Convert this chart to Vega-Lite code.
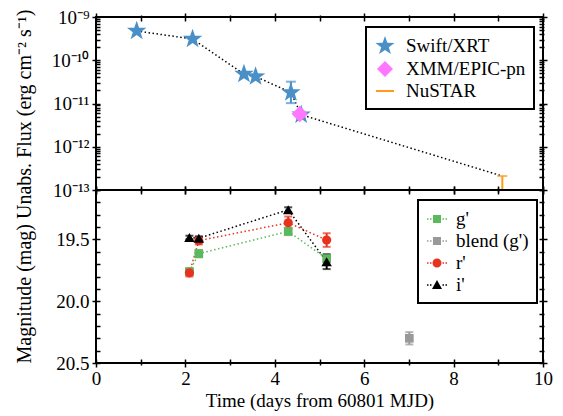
{
  "$schema": "https://vega.github.io/schema/vega-lite/v6.json",
  "autosize": {"type": "none"},
  "padding": {"left": 96, "top": 17, "right": 20, "bottom": 53},
  "params": [{"name": "width", "value": 447}, {"name": "height", "value": 346}],
  "background": "white",
  "spacing": 0,
  "bounds": "flush",
  "datasets": {
    "xray": [
      {"t": 0.91, "flux": 4.75e-10, "inst": "Swift/XRT"},
      {"t": 2.16, "flux": 3.1e-10, "inst": "Swift/XRT"},
      {"t": 3.31, "flux": 4.8e-11, "inst": "Swift/XRT"},
      {"t": 3.57, "flux": 4.2e-11, "inst": "Swift/XRT"},
      {"t": 4.36, "flux": 1.8e-11, "lo": 1.02e-11, "hi": 3.2e-11, "inst": "Swift/XRT"},
      {"t": 4.59, "flux": 5.5e-12, "inst": "Swift/XRT"},
      {"t": 4.56, "flux": 5.7e-12, "inst": "XMM/EPIC-pn"},
      {"t": 9.09, "flux": 2.1e-13, "lo": 1e-13, "hi": 2.1e-13, "inst": "NuSTAR"}
    ],
    "opt": [
      {"t": 2.09, "mag": 19.76, "lo": 19.735, "hi": 19.785, "band": "g'"},
      {"t": 2.30, "mag": 19.615, "lo": 19.585, "hi": 19.645, "band": "g'"},
      {"t": 4.30, "mag": 19.435, "lo": 19.405, "hi": 19.465, "band": "g'"},
      {"t": 5.16, "mag": 19.655, "lo": 19.625, "hi": 19.685, "band": "g'"},
      {"t": 7.01, "mag": 20.30, "lo": 20.25, "hi": 20.35, "band": "blend (g')"},
      {"t": 2.09, "mag": 19.77, "lo": 19.74, "hi": 19.80, "band": "r'"},
      {"t": 2.30, "mag": 19.51, "lo": 19.48, "hi": 19.54, "band": "r'"},
      {"t": 4.30, "mag": 19.365, "lo": 19.315, "hi": 19.415, "band": "r'"},
      {"t": 5.16, "mag": 19.505, "lo": 19.45, "hi": 19.56, "band": "r'"},
      {"t": 2.09, "mag": 19.485, "lo": 19.47, "hi": 19.50, "band": "i'"},
      {"t": 2.30, "mag": 19.49, "lo": 19.475, "hi": 19.505, "band": "i'"},
      {"t": 4.30, "mag": 19.26, "lo": 19.24, "hi": 19.28, "band": "i'"},
      {"t": 5.16, "mag": 19.68, "lo": 19.62, "hi": 19.74, "band": "i'"}
    ]
  },
  "vconcat": [
    {
      "width": 447,
      "height": 173,
      "data": {"name": "xray"},
      "resolve": {"axis": {"x": "independent", "y": "independent"}},
      "layer": [
        {
          "transform": [{"filter": {"not": {"field": "inst", "equal": "XMM/EPIC-pn"}}}],
          "mark": {"type": "line", "color": "black", "strokeDash": [1.5, 2.5], "strokeWidth": 1.5},
          "encoding": {
            "x": {"field": "t", "type": "quantitative",
              "scale": {"domain": [0, 10], "nice": false, "zero": false},
              "axis": {"orient": "bottom", "title": null, "labels": false,
                "values": [0,1,2,3,4,5,6,7,8,9,10],
                "tickSize": {"condition": {"test": "datum.value % 2 === 0", "value": 8}, "value": 6}}},
            "y": {"field": "flux", "type": "quantitative",
              "scale": {"type": "log", "domain": [1e-13, 1e-9], "nice": false},
              "axis": {"orient": "left", "title": null, "labelPadding": 3,
                "values": [1e-13,2e-13,3e-13,4e-13,5e-13,6e-13,7e-13,8e-13,9e-13,1e-12,2e-12,3e-12,4e-12,5e-12,6e-12,7e-12,8e-12,9e-12,1e-11,2e-11,3e-11,4e-11,5e-11,6e-11,7e-11,8e-11,9e-11,1e-10,2e-10,3e-10,4e-10,5e-10,6e-10,7e-10,8e-10,9e-10,1e-9],
                "labelExpr": "abs(log(datum.value)/LN10 + 9) < 0.001 ? '10⁻⁹' : abs(log(datum.value)/LN10 + 10) < 0.001 ? '10⁻¹⁰' : abs(log(datum.value)/LN10 + 11) < 0.001 ? '10⁻¹¹' : abs(log(datum.value)/LN10 + 12) < 0.001 ? '10⁻¹²' : abs(log(datum.value)/LN10 + 13) < 0.001 ? '10⁻¹³' : ''",
                "tickSize": {"condition": {"test": "abs(log(datum.value)/LN10 - round(log(datum.value)/LN10)) < 0.001", "value": 8}, "value": 5}}}
          }
        },
        {
          "transform": [{"filter": "isValid(datum.lo)"}],
          "mark": {"type": "rule", "strokeWidth": 2},
          "encoding": {
            "x": {"field": "t", "type": "quantitative", "axis": null},
            "y": {"field": "lo", "type": "quantitative", "axis": null},
            "y2": {"field": "hi"},
            "color": {"field": "inst", "type": "nominal", "legend": null,
              "scale": {"domain": ["NuSTAR", "XMM/EPIC-pn", "Swift/XRT"], "range": ["#ff9a1a", "#ff77ff", "#4a90c8"]}}
          }
        },
        {
          "transform": [{"filter": "isValid(datum.lo)"}],
          "mark": {"type": "tick", "orient": "horizontal", "size": 10, "thickness": 2},
          "encoding": {
            "x": {"field": "t", "type": "quantitative", "axis": null},
            "y": {"field": "hi", "type": "quantitative", "axis": null},
            "color": {"field": "inst", "type": "nominal", "legend": null}
          }
        },
        {
          "transform": [{"filter": "isValid(datum.lo)"}],
          "mark": {"type": "tick", "orient": "horizontal", "size": 10, "thickness": 2},
          "encoding": {
            "x": {"field": "t", "type": "quantitative", "axis": null},
            "y": {"field": "lo", "type": "quantitative", "axis": null},
            "color": {"field": "inst", "type": "nominal", "legend": null}
          }
        },
        {
          "transform": [{"filter": {"not": {"field": "inst", "equal": "NuSTAR"}}}],
          "mark": {"type": "point", "filled": true, "opacity": 1, "size": 420},
          "encoding": {
            "x": {"field": "t", "type": "quantitative",
              "axis": {"orient": "top", "title": null, "labels": false,
                "values": [0,1,2,3,4,5,6,7,8,9,10],
                "tickSize": {"condition": {"test": "datum.value % 2 === 0", "value": 8}, "value": 6}}},
            "y": {"field": "flux", "type": "quantitative",
              "axis": {"orient": "right", "title": null, "labels": false,
                "values": [1e-13,2e-13,3e-13,4e-13,5e-13,6e-13,7e-13,8e-13,9e-13,1e-12,2e-12,3e-12,4e-12,5e-12,6e-12,7e-12,8e-12,9e-12,1e-11,2e-11,3e-11,4e-11,5e-11,6e-11,7e-11,8e-11,9e-11,1e-10,2e-10,3e-10,4e-10,5e-10,6e-10,7e-10,8e-10,9e-10,1e-9],
                "tickSize": {"condition": {"test": "abs(log(datum.value)/LN10 - round(log(datum.value)/LN10)) < 0.001", "value": 8}, "value": 5}}},
            "fill": {"field": "inst", "type": "nominal",
              "scale": {"domain": ["Swift/XRT", "XMM/EPIC-pn", "NuSTAR"], "range": ["#4a90c8", "#ff77ff", "#ff9a1a"]},
              "legend": {"title": null, "orient": "none", "legendX": 270, "legendY": 10, "symbolSize": 400, "labelOffset": 10, "rowPadding": 0, "padding": 8, "labelFont": "Liberation Serif", "labelFontSize": 19}},
            "shape": {"field": "inst", "type": "nominal",
              "scale": {"domain": ["Swift/XRT", "XMM/EPIC-pn", "NuSTAR"], "range": ["M0,-1L0.235,-0.324L0.951,-0.309L0.38,0.124L0.588,0.809L0,0.4L-0.588,0.809L-0.38,0.124L-0.951,-0.309L-0.235,-0.324Z", "M0,-0.8L0.8,0L0,0.8L-0.8,0Z", "M-0.9,-0.1H0.9V0.1H-0.9Z"]},
              "legend": {"title": null, "orient": "none", "legendX": 270, "legendY": 10, "symbolSize": 400, "labelOffset": 10, "rowPadding": 0, "padding": 8, "labelFont": "Liberation Serif", "labelFontSize": 19}}
          }
        }
      ]
    },
    {
      "width": 447,
      "height": 173,
      "data": {"name": "opt"},
      "resolve": {"axis": {"x": "independent", "y": "independent"}},
      "layer": [
        {
          "transform": [{"filter": {"not": {"field": "band", "equal": "blend (g')"}}}],
          "mark": {"type": "line", "strokeDash": [1.5, 2.5], "strokeWidth": 1.5},
          "encoding": {
            "x": {"field": "t", "type": "quantitative",
              "scale": {"domain": [0, 10], "nice": false, "zero": false},
              "axis": {"orient": "bottom", "title": "Time (days from 60801 MJD)", "labelPadding": 2, "titlePadding": 3,
                "values": [0,1,2,3,4,5,6,7,8,9,10],
                "labelExpr": "datum.value % 2 === 0 ? datum.label : ''",
                "tickSize": {"condition": {"test": "datum.value % 2 === 0", "value": 8}, "value": 6}}},
            "y": {"field": "mag", "type": "quantitative",
              "scale": {"domain": [19.1, 20.5], "reverse": true, "nice": false, "zero": false},
              "axis": {"orient": "left", "labelPadding": 3,
                "title": "Magnitude (mag) Unabs. Flux (erg cm⁻² s⁻¹)",
                "titleX": -76, "titleY": -4, "titleBaseline": "middle", "titleFontSize": 20,
                "values": [19.1,19.2,19.3,19.4,19.5,19.6,19.7,19.8,19.9,20.0,20.1,20.2,20.3,20.4,20.5],
                "labelExpr": "abs(datum.value*2 - round(datum.value*2)) < 0.001 ? format(datum.value, '.1f') : ''",
                "tickSize": {"condition": {"test": "abs(datum.value*2 - round(datum.value*2)) < 0.001", "value": 8}, "value": 5}}},
            "color": {"field": "band", "type": "nominal", "legend": null,
              "scale": {"domain": ["i'", "r'", "blend (g')", "g'"], "range": ["#000000", "#e8321e", "#999999", "#5cb85c"]}}
          }
        },
        {
          "mark": {"type": "rule", "strokeWidth": 2},
          "encoding": {
            "x": {"field": "t", "type": "quantitative", "axis": null},
            "y": {"field": "lo", "type": "quantitative", "axis": null},
            "y2": {"field": "hi"},
            "color": {"field": "band", "type": "nominal", "legend": null}
          }
        },
        {
          "mark": {"type": "tick", "orient": "horizontal", "size": 8, "thickness": 2},
          "encoding": {
            "x": {"field": "t", "type": "quantitative", "axis": null},
            "y": {"field": "lo", "type": "quantitative", "axis": null},
            "color": {"field": "band", "type": "nominal", "legend": null}
          }
        },
        {
          "mark": {"type": "tick", "orient": "horizontal", "size": 8, "thickness": 2},
          "encoding": {
            "x": {"field": "t", "type": "quantitative", "axis": null},
            "y": {"field": "hi", "type": "quantitative", "axis": null},
            "color": {"field": "band", "type": "nominal", "legend": null}
          }
        },
        {
          "transform": [{"filter": {"field": "band", "oneOf": ["g'", "blend (g')"]}}],
          "mark": {"type": "point", "shape": "square", "filled": true, "opacity": 1, "size": 75},
          "encoding": {
            "x": {"field": "t", "type": "quantitative", "axis": null},
            "y": {"field": "mag", "type": "quantitative", "axis": null},
            "color": {"field": "band", "type": "nominal", "legend": null}
          }
        },
        {
          "transform": [{"filter": {"field": "band", "equal": "r'"}}],
          "mark": {"type": "point", "shape": "circle", "filled": true, "opacity": 1, "size": 85},
          "encoding": {
            "x": {"field": "t", "type": "quantitative", "axis": null},
            "y": {"field": "mag", "type": "quantitative", "axis": null},
            "color": {"field": "band", "type": "nominal", "legend": null}
          }
        },
        {
          "transform": [{"filter": {"field": "band", "equal": "i'"}}],
          "mark": {"type": "point", "shape": "triangle-up", "filled": true, "opacity": 1, "size": 110},
          "encoding": {
            "x": {"field": "t", "type": "quantitative", "axis": null},
            "y": {"field": "mag", "type": "quantitative", "axis": null},
            "color": {"field": "band", "type": "nominal", "legend": null}
          }
        },
        {
          "transform": [{"filter": "false"}],
          "mark": {"type": "point", "filled": true, "opacity": 1},
          "encoding": {
            "x": {"field": "t", "type": "quantitative",
              "axis": {"orient": "top", "title": null, "labels": false,
                "values": [0,1,2,3,4,5,6,7,8,9,10],
                "tickSize": {"condition": {"test": "datum.value % 2 === 0", "value": 8}, "value": 6}}},
            "y": {"field": "mag", "type": "quantitative",
              "axis": {"orient": "right", "title": null, "labels": false,
                "values": [19.1,19.2,19.3,19.4,19.5,19.6,19.7,19.8,19.9,20.0,20.1,20.2,20.3,20.4,20.5],
                "tickSize": {"condition": {"test": "abs(datum.value*2 - round(datum.value*2)) < 0.001", "value": 8}, "value": 5}}},
            "fill": {"field": "band", "type": "nominal",
              "scale": {"domain": ["g'", "blend (g')", "r'", "i'"], "range": ["#5cb85c", "#999999", "#e8321e", "#000000"]},
              "legend": {"title": null, "orient": "none", "legendX": 322, "legendY": 10, "symbolSize": 400, "labelOffset": 8, "rowPadding": 1, "padding": 8, "labelFont": "Liberation Serif", "labelFontSize": 19}},
            "shape": {"field": "band", "type": "nominal",
              "scale": {"domain": ["g'", "blend (g')", "r'", "i'"], "range": [
                "M-1,-0.075h0.15v0.15h-0.15z M-0.7,-0.075h0.15v0.15h-0.15z M0.55,-0.075h0.15v0.15h-0.15z M0.85,-0.075h0.15v0.15h-0.15z M-0.4,-0.4h0.8v0.8h-0.8z",
                "M-1,-0.075h0.15v0.15h-0.15z M-0.7,-0.075h0.15v0.15h-0.15z M0.55,-0.075h0.15v0.15h-0.15z M0.85,-0.075h0.15v0.15h-0.15z M-0.4,-0.4h0.8v0.8h-0.8z",
                "M-1,-0.075h0.15v0.15h-0.15z M-0.7,-0.075h0.15v0.15h-0.15z M0.55,-0.075h0.15v0.15h-0.15z M0.85,-0.075h0.15v0.15h-0.15z M-0.45,0A0.45,0.45 0 1,0 0.45,0A0.45,0.45 0 1,0 -0.45,0Z",
                "M-1,-0.075h0.15v0.15h-0.15z M-0.7,-0.075h0.15v0.15h-0.15z M0.55,-0.075h0.15v0.15h-0.15z M0.85,-0.075h0.15v0.15h-0.15z M0,-0.5L0.5,0.4L-0.5,0.4Z"
              ]},
              "legend": {"title": null, "orient": "none", "legendX": 322, "legendY": 10, "symbolSize": 400, "labelOffset": 8, "rowPadding": 1, "padding": 8, "labelFont": "Liberation Serif", "labelFontSize": 19}}
          }
        }
      ]
    }
  ],
  "resolve": {
    "scale": {"color": "independent", "fill": "independent", "shape": "independent"},
    "legend": {"color": "independent", "fill": "independent", "shape": "independent"}
  },
  "config": {
    "font": "Liberation Serif",
    "view": {"stroke": "black", "strokeWidth": 2},
    "axis": {
      "domain": false, "grid": false, "offset": -4,
      "labelFont": "Liberation Serif", "labelFontSize": 19, "labelColor": "black",
      "labelFlush": false, "labelOverlap": false,
      "titleFont": "Liberation Serif", "titleFontSize": 19, "titleFontWeight": "normal", "titleColor": "black",
      "tickColor": "black", "tickWidth": 1.5
    },
    "legend": {
      "labelFont": "Liberation Serif", "labelFontSize": 19, "labelColor": "black",
      "strokeColor": "black", "strokeWidth": 2, "fillColor": "white", "cornerRadius": 0
    }
  }
}
